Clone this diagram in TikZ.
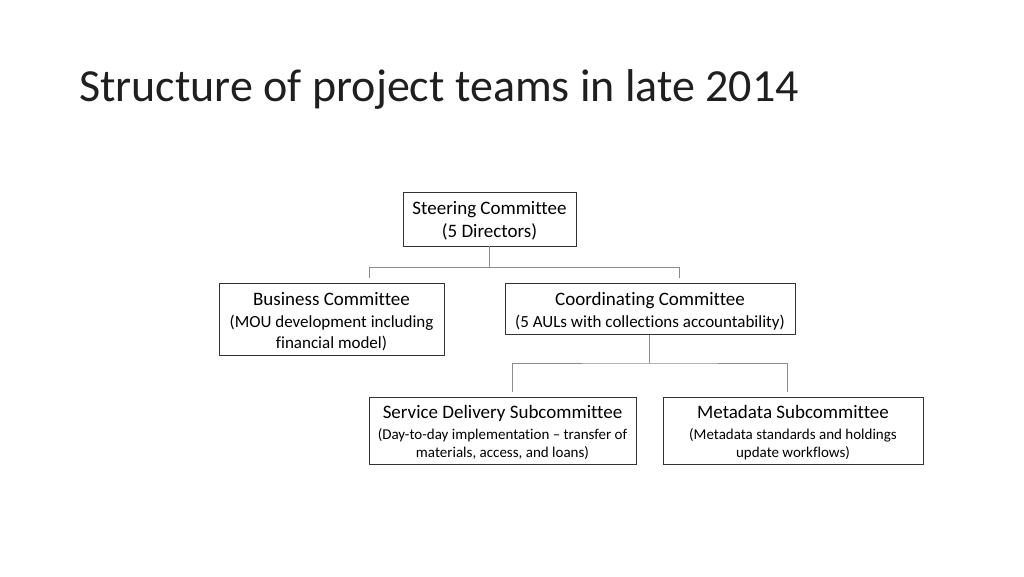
\documentclass[tikz,border=0pt]{standalone}
\usepackage{fontspec}
\setmainfont{Carlito}[Ligatures=NoCommon]
\newcommand\headfont{\fontsize{19}{23}\selectfont}
\newcommand\midfont{\fontsize{17}{20.5}\selectfont}
\newcommand\lowfont{\fontsize{15}{18}\selectfont}
\begin{document}
\begin{tikzpicture}[x=1pt,y=-1pt]
\tikzstyle{every node}+=[inner sep=0pt]
\tikzstyle{box}=[draw=black!80,line width=0.8pt,align=center]
\tikzstyle{link}=[draw=black!45,line width=0.8pt]
\useasboundingbox (0,0) rectangle (1024,576);
\node [anchor=base west,text=black!88,font=\fontsize{46}{55}\selectfont] (title) at (79,101) {Structure of project teams in late 2014};
\node [box,font=\headfont,minimum width=173,minimum height=54] (steer) at (489.5,219) {\rule{0pt}{17pt}Steering Committee\\(5 Directors)};
\node [box,font=\midfont,minimum width=225,minimum height=72] (business) at (331.5,319.5) {\rule{0pt}{17pt}{\headfont Business Committee}\\[1.5pt](MOU development including\\financial model)};
\node [box,font=\midfont,minimum width=290,minimum height=51] (coord) at (650,309) {\rule{0pt}{17pt}{\headfont Coordinating Committee}\\[1.5pt](5 AULs with collections accountability)};
\node [box,font=\lowfont,minimum width=267,minimum height=67] (service) at (502.5,431) {\rule{0pt}{16pt}{\headfont Service Delivery Subcommittee}\\[3pt](Day-to-day implementation -- transfer of\\materials, access, and loans)};
\node [box,font=\lowfont,minimum width=260,minimum height=67] (meta) at (793,431) {\rule{0pt}{17pt}{\headfont Metadata Subcommittee}\\[3pt](Metadata standards and holdings\\update workflows)};
\coordinate (topbar) at (489.5,267.5);
\coordinate (topleft) at (369.5,278);
\coordinate (topright) at (679,278);
\coordinate (lowbar) at (649.5,363);
\coordinate (lowleft) at (512,392);
\coordinate (lowright) at (787,392);
\draw [link] (steer.south) -- (topbar);
\draw [link] (topleft) |- (topbar) -| (topright);
\draw [link] (coord.south -| lowbar) -- (lowbar);
\draw [link] (lowleft) |- (lowbar) -| (lowright);
\end{tikzpicture}
\end{document}
